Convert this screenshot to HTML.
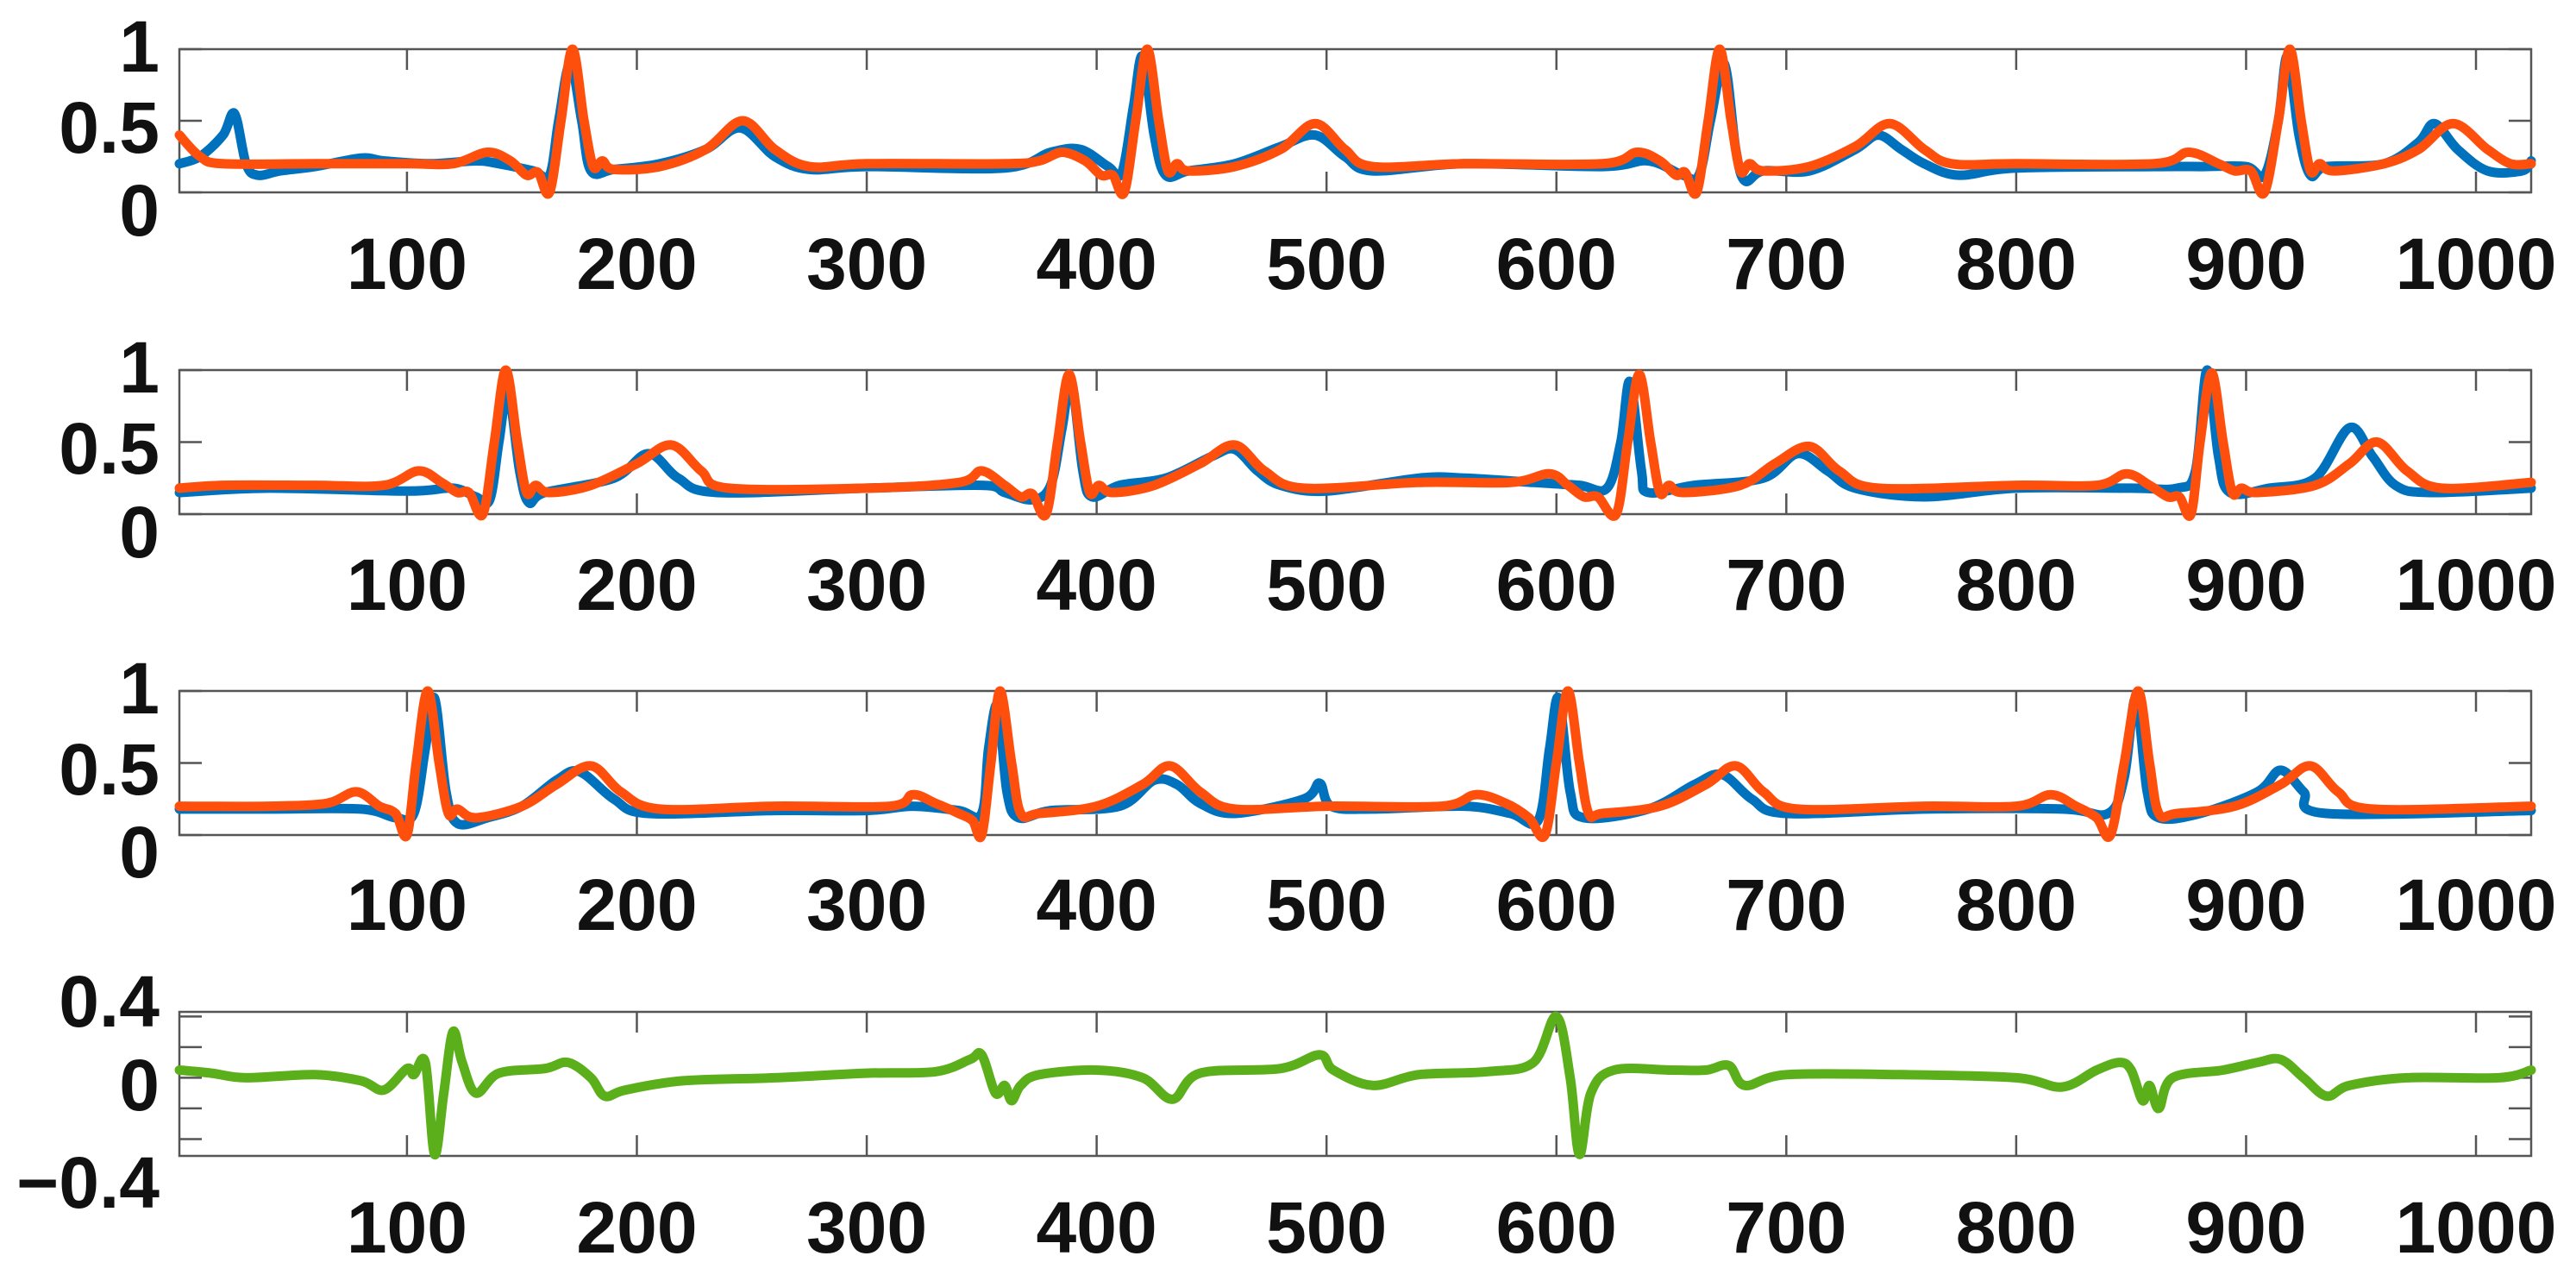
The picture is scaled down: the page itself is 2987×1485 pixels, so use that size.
<!DOCTYPE html>
<html><head><meta charset="utf-8"><style>
html,body{margin:0;padding:0;background:#fff;}
svg{display:block;}
text{font-family:"Liberation Sans",Arial,sans-serif;font-weight:bold;fill:#111;}
</style></head><body>
<svg id="chart" width="2987" height="1485" viewBox="0 0 2987 1485" xmlns="http://www.w3.org/2000/svg"></svg>
<script>
// ---- data (pairs: sample index, amplitude) ----
const xTicks = [100,200,300,400,500,600,700,800,900,1000];
const xTickLabels = ["100","200","300","400","500","600","700","800","900","1000"];
const p1Orange = [1,.4,10,.25,20,.2,60,.2,100,.2,120,.2,135,.28,145,.22,152,.12,157,.14,162,0,167,.5,172,1,177,.5,181,.18,185,.22,190,.16,210,.18,230,.3,246,.5,260,.3,275,.18,300,.2,360,.2,375,.22,385,.28,395,.22,402,.12,407,.12,412,0,417,.5,422,1,427,.5,431,.15,435,.2,440,.15,460,.18,480,.3,495,.48,508,.3,520,.18,560,.2,620,.2,635,.28,645,.22,652,.12,656,.14,661,0,666,.5,671,1,676,.5,680,.15,684,.2,690,.15,710,.18,730,.32,745,.48,760,.3,772,.2,800,.2,860,.2,875,.28,888,.2,895,.15,902,.15,908,0,914,.5,919,1,924,.5,928,.15,932,.2,938,.15,960,.2,975,.3,990,.48,1005,.3,1015,.2,1024,.2];
const p1Blue = [1,.2,10,.25,20,.4,25,.55,30,.2,35,.12,45,.15,60,.18,80,.24,90,.22,110,.2,130,.22,140,.2,155,.15,162,.12,166,.5,171,.9,176,.5,180,.15,190,.16,210,.2,230,.3,245,.45,260,.25,275,.16,300,.18,360,.17,380,.28,393,.3,405,.18,411,.14,416,.6,420,.95,425,.4,430,.12,440,.15,460,.2,480,.32,495,.4,508,.25,520,.15,560,.2,620,.18,640,.22,655,.12,662,.12,667,.5,673,.9,678,.3,682,.08,690,.15,710,.15,730,.3,740,.4,750,.3,760,.2,775,.12,800,.17,860,.18,880,.18,900,.18,908,.12,914,.5,918,.95,923,.4,928,.12,935,.18,960,.2,975,.35,982,.48,992,.3,1005,.15,1020,.15,1024,.22];
const p2Orange = [1,.18,20,.2,60,.2,90,.2,105,.3,115,.22,122,.15,127,.15,133,0,138,.5,143,1,148,.5,152,.15,156,.2,162,.15,180,.2,200,.35,215,.48,228,.3,240,.18,300,.18,340,.22,350,.3,360,.2,367,.12,372,.14,378,0,383,.5,388,.97,393,.5,397,.15,401,.2,407,.15,425,.2,445,.35,460,.48,473,.3,490,.18,540,.22,580,.22,597,.28,605,.2,612,.12,618,.12,626,0,631,.5,636,.97,641,.5,645,.15,649,.2,655,.15,680,.2,695,.35,710,.47,723,.3,740,.18,800,.2,835,.2,848,.28,858,.2,866,.12,871,.12,876,0,880,.5,885,.98,890,.5,894,.15,898,.18,905,.15,930,.2,945,.35,957,.5,970,.3,985,.18,1024,.22];
const p2Blue = [1,.15,40,.18,100,.16,120,.18,130,.12,136,.1,140,.5,144,.85,149,.3,153,.08,160,.15,190,.25,205,.42,218,.25,235,.15,300,.18,350,.2,360,.15,372,.1,380,.2,385,.6,389,.92,394,.3,398,.12,410,.2,430,.25,450,.4,460,.45,470,.3,480,.2,500,.16,540,.25,560,.25,590,.22,610,.2,622,.18,628,.5,632,.92,637,.3,640,.15,660,.2,690,.25,705,.42,718,.3,730,.18,760,.12,800,.18,850,.18,870,.18,878,.3,883,1,888,.4,893,.15,910,.18,930,.25,945,.6,955,.4,965,.2,980,.15,1024,.18];
const p3Orange = [1,.2,40,.2,65,.22,78,.3,88,.2,95,.15,100,0,104,.5,109,1,114,.5,118,.15,122,.18,130,.12,150,.2,165,.35,180,.48,193,.3,210,.18,260,.2,310,.2,320,.28,330,.22,340,.15,346,.1,350,0,354,.5,358,1,363,.5,367,.15,375,.15,400,.2,420,.35,432,.48,445,.3,460,.18,500,.2,550,.2,565,.28,578,.22,588,.12,595,0,600,.5,605,1,610,.5,614,.15,620,.15,645,.2,665,.35,678,.48,690,.3,705,.18,760,.2,800,.2,815,.28,826,.2,835,.12,841,0,847,.5,853,1,858,.5,862,.15,870,.15,895,.2,915,.35,928,.48,940,.3,955,.18,1024,.2];
const p3Blue = [1,.18,40,.18,80,.18,95,.12,103,.15,108,.6,112,.95,117,.3,122,.08,135,.12,150,.2,165,.38,175,.44,190,.25,205,.15,260,.17,300,.17,320,.2,340,.17,350,.15,353,.6,357,.9,361,.3,366,.12,380,.17,410,.2,425,.38,435,.35,445,.22,460,.15,490,.25,497,.36,502,.2,520,.18,560,.2,580,.15,592,.1,597,.6,601,.95,606,.3,612,.12,640,.18,660,.35,672,.42,685,.25,700,.15,760,.18,820,.18,840,.15,847,.4,852,.95,857,.3,862,.12,880,.15,905,.3,915,.45,925,.3,935,.15,1024,.17];
const p4Green = [1,.05,15,.03,30,0,60,.02,80,-.02,90,-.08,100,.06,103,.02,108,.1,112,-.5,116,-.1,120,.3,124,.1,130,-.1,140,.03,160,.06,170,.1,180,0,186,-.12,195,-.08,220,-.02,260,0,300,.03,330,.04,345,.12,350,.15,356,-.1,360,-.05,363,-.15,367,-.05,375,.02,400,.05,420,0,433,-.14,445,.03,480,.06,497,.15,503,.05,520,-.05,540,.02,570,.04,590,.1,600,.4,606,0,610,-.5,615,-.1,625,.05,650,.05,665,.05,675,.08,682,-.05,700,.02,750,.02,800,0,820,-.06,835,.05,845,.1,850,.05,855,-.15,858,-.05,862,-.2,868,0,890,.05,905,.1,915,.12,925,0,935,-.12,945,-.05,970,0,1010,0,1024,.05];
const yTicksA = [0,0.5,1];
const yTickLabelsA = ["0","0.5","1"];
const yTicksB = [-0.4,-0.2,0,0.2,0.4];

// ---- layout ----
const NS="http://www.w3.org/2000/svg";
const svg=document.getElementById('chart');
const X0=208, X1=2935, XMIN=1, XMAX=1024;
const xs=v=>X0+(v-XMIN)/(XMAX-XMIN)*(X1-X0);
const panels=[
 {top:57,bot:223,ymin:0,ymax:1,labY:[243,147,53],xlab:305,series:[[p1Blue,'#0072BD'],[p1Orange,'#FF4F0C']]},
 {top:429,bot:596,ymin:0,ymax:1,labY:[616,519,425],xlab:677,series:[[p2Blue,'#0072BD'],[p2Orange,'#FF4F0C']]},
 {top:801,bot:968,ymin:0,ymax:1,labY:[987,891,797],xlab:1048,series:[[p3Blue,'#0072BD'],[p3Orange,'#FF4F0C']]},
 {top:1173,bot:1340,ymin:-0.51,ymax:0.43,xlab:1422,series:[[p4Green,'#5BAF1A']]}
];
function mk(tag,attrs){const e=document.createElementNS(NS,tag);for(const k in attrs)e.setAttribute(k,attrs[k]);svg.appendChild(e);return e;}
function smoothPath(pts){
  let d='M'+pts[0][0].toFixed(1)+','+pts[0][1].toFixed(1);
  for(let i=0;i<pts.length-1;i++){
    const p0=pts[Math.max(0,i-1)],p1=pts[i],p2=pts[i+1],p3=pts[Math.min(pts.length-1,i+2)];
    const c1x=p1[0]+(p2[0]-p0[0])/6,c1y=p1[1]+(p2[1]-p0[1])/6;
    const c2x=p2[0]-(p3[0]-p1[0])/6,c2y=p2[1]-(p3[1]-p1[1])/6;
    d+=`C${c1x.toFixed(1)},${c1y.toFixed(1)} ${c2x.toFixed(1)},${c2y.toFixed(1)} ${p2[0].toFixed(1)},${p2[1].toFixed(1)}`;
  }
  return d;
}
panels.forEach((p,i)=>{
  const ys=v=>p.bot-(v-p.ymin)/(p.ymax-p.ymin)*(p.bot-p.top);
  const box=mk('rect',{x:X0,y:p.top,width:X1-X0,height:p.bot-p.top,fill:'none',stroke:'#555','stroke-width':2.5});
  
  
  xTicks.forEach((t,j)=>{
    const x=xs(t);
    const tk=mk('path',{d:`M${x},${p.top}v24M${x},${p.bot}v-24`,stroke:'#555','stroke-width':2.5});
    
    
    const lb=mk('text',{x:x,y:p.xlab+30,'text-anchor':'middle','font-size':84});
    lb.textContent=xTickLabels[j];
    
    
  });
  if(i<3){
    yTicksA.forEach((t,j)=>{
      const y=ys(t);
      const tk=mk('path',{d:`M${X0},${y}h26M${X1},${y}h-26`,stroke:'#555','stroke-width':2.5});
      
      
      const lb=mk('text',{x:185,y:p.labY[j]+30,'text-anchor':'end','font-size':84});
      lb.textContent=yTickLabelsA[j];
      
      
    });
  } else {
    yTicksB.forEach(t=>{
      const y=ys(t);
      const tk=mk('path',{d:`M${X0},${y}h26M${X1},${y}h-26`,stroke:'#555','stroke-width':2.5});
      
      
    });
    [["0.4",1160],["0",1257],["\u22120.4",1370]].forEach(([s,y])=>{
      const lb=mk('text',{x:185,y:y+30,'text-anchor':'end','font-size':84});
      lb.textContent=s;
      
      
    });
  }
  p.series.forEach(([arr,col],k)=>{
    const pts=[];
    for(let m=0;m<arr.length;m+=2){pts.push([xs(arr[m]),ys(arr[m+1])]);}
    const ln=mk('path',{d:smoothPath(pts),fill:'none',stroke:col,'stroke-width':11,'stroke-linejoin':'round','stroke-linecap':'round'});
    
    
  });
});
</script>
</body></html>
